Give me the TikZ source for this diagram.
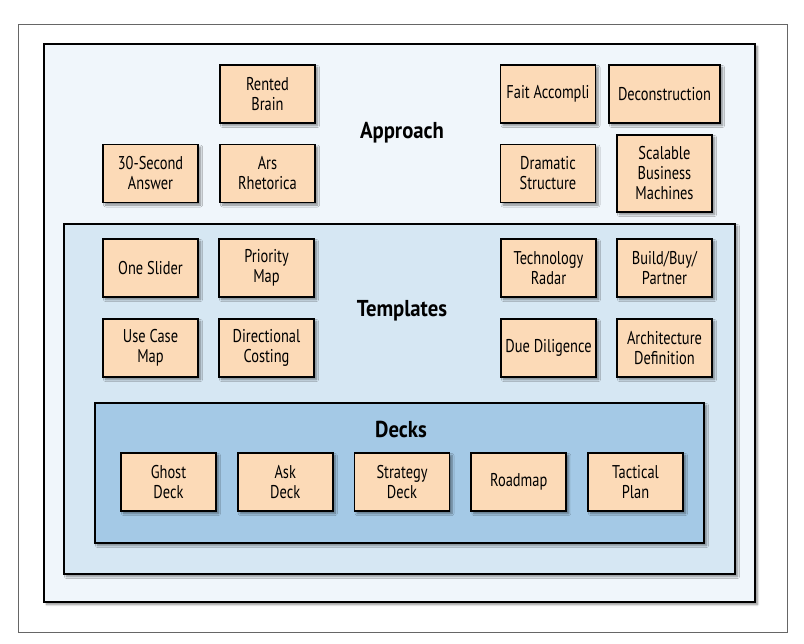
\documentclass[tikz,border=0pt]{standalone}
\usepackage{fontspec}
\setmainfont{PT Sans}[FakeStretch=0.78]
\newfontfamily\titlefont{PT Sans}[FakeStretch=0.9]
\usepackage{tikz}
\usetikzlibrary{shadows.blur}
\definecolor{peach}{HTML}{FCDAB7}
\definecolor{approachblue}{HTML}{F0F6FB}
\definecolor{templateblue}{HTML}{D6E7F3}
\definecolor{deckblue}{HTML}{A4C9E6}
\begin{document}
\begin{tikzpicture}[x=1pt, y=-1pt,
    layer/.style={draw=black, line width=1.6pt, inner sep=0pt,
        blur shadow={shadow xshift=2.5pt, shadow yshift=-2.5pt, shadow blur steps=6, shadow opacity=45}},
    card/.style={layer, fill=peach, minimum width=95pt, minimum height=58pt, align=center,
        font=\fontsize{18.5}{20}\selectfont},
    heading/.style={font=\titlefont\fontsize{23}{26}\selectfont\bfseries}]
            \useasboundingbox (0,0) rectangle (804,644);
            % frame
            \draw[gray!80!black, line width=0.9pt] (18,24) rectangle (787,632);

            % layers
            \node[layer, fill=approachblue, minimum width=711pt, minimum height=558pt] (approach) at (399.5,323) {};
            \node[heading] (approachlbl) at (402,133) {Approach};
            \node[layer, fill=templateblue, minimum width=671pt, minimum height=350pt] (templates) at (399.5,399) {};
            \node[heading] (templateslbl) at (402,311) {Templates};
            \node[layer, fill=deckblue, minimum width=609pt, minimum height=140pt] (decks) at (399.5,473) {};
            \node[heading] (deckslbl) at (401,429) {Decks};

            % approach
            \node[card] (rented) at (267.5,94) {Rented\\Brain};
            \node[card] (thirty) at (150.5,173.5) {30-Second\\Answer};
            \node[card] (ars) at (267.5,173.5) {Ars\\Rhetorica};
            \node[card] (fait) at (548,94) {Fait Accompli};
            \node[card, minimum width=111pt] (decon) at (664.5,94) {Deconstruction};
            \node[card] (dramatic) at (548,173.5) {Dramatic\\Structure};
            \node[card, minimum height=77pt] (scalable) at (664.5,173.5) {Scalable\\Business\\Machines};

            % templates
            \node[card] (oneslider) at (150.5,268) {One Slider};
            \node[card] (priority) at (266.5,268) {Priority\\Map};
            \node[card] (usecase) at (150.5,348) {Use Case\\Map};
            \node[card] (costing) at (266.5,348) {Directional\\Costing};
            \node[card] (radar) at (548.5,268) {Technology\\Radar};
            \node[card] (buildbuy) at (664.5,268) {Build/Buy/\\Partner};
            \node[card] (diligence) at (548.5,348) {Due Diligence};
            \node[card] (archdef) at (664.5,348) {Architecture\\Definition};

            % decks
            \foreach \nm/\txt [count=\i] in {ghost/{Ghost\\Deck}, ask/{Ask\\Deck},
                    strategy/{Strategy\\Deck}, roadmap/{Roadmap}, tactical/{Tactical\\Plan}}
                \node[card] (\nm) at ({168.5+116.75*(\i-1)},482) {\txt};
        \end{tikzpicture}
\end{document}
